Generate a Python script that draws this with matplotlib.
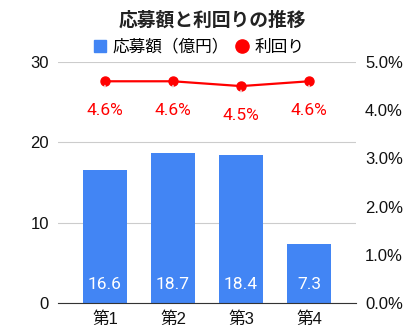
import matplotlib
matplotlib.use("Agg")
import matplotlib.pyplot as plt
from matplotlib.ticker import FuncFormatter
from matplotlib.lines import Line2D

plt.rcParams['font.family'] = ['Roboto', 'Noto Sans CJK JP', 'DejaVu Sans']
TICKFONT = ['Liberation Sans', 'Noto Sans CJK JP', 'DejaVu Sans']

categories = ["第1", "第2", "第3", "第4"]
amounts = [16.6, 18.7, 18.4, 7.3]          # 応募額(億円)
yields = [4.6, 4.6, 4.5, 4.6]              # 利回り (%)
left_ticks = [0, 10, 20, 30]
right_ticks = [0.0, 1.0, 2.0, 3.0, 4.0, 5.0]

BAR = "#4285f4"
RED = "#ff0000"

fig = plt.figure(figsize=(4.16, 3.36), dpi=100)
ax = fig.add_axes([58/416, 33/336, 298/416, 241/336])
ax2 = ax.twinx()

x = list(range(len(categories)))
ax.bar(x, amounts, width=0.65, color=BAR, zorder=2, label="応募額（億円）")
ax.set_xlim(-0.69, 3.69)
ax.set_ylim(0, 30)
ax.set_yticks(left_ticks)
ax.set_xticks(x)
ax.set_xticklabels(categories)
ax.grid(axis='y', color='#cccccc', linewidth=0.8, zorder=0)
for s in ['top', 'right', 'left']:
    ax.spines[s].set_visible(False)
ax.spines['bottom'].set_color('#333333')
ax.spines['bottom'].set_zorder(3)
ax.tick_params(axis='both', length=0, labelsize=12, colors='#111111')
ax.tick_params(axis='x', pad=6)
ax.tick_params(axis='y', pad=6.5)
for lab in ax.get_xticklabels() + ax.get_yticklabels():
    lab.set_family(TICKFONT)

for xi, v in zip(x, amounts):
    ax.annotate(f"{v}", xy=(xi, 0), xytext=(0, 8), textcoords='offset points',
                ha='center', va='bottom', color='white', fontsize=12.5, zorder=4)

ax2.plot(x, yields, color=RED, linewidth=1.6, marker='o', markersize=6.5,
         zorder=3, label="利回り")
ax2.set_ylim(0, 5)
ax2.set_yticks(right_ticks)
ax2.yaxis.set_major_formatter(FuncFormatter(lambda v, p: f"{v:.1f}%"))
for s in ['top', 'right', 'left', 'bottom']:
    ax2.spines[s].set_visible(False)
ax2.tick_params(axis='y', length=0, labelsize=12, colors='#111111', pad=6.5)
for lab in ax2.get_yticklabels():
    lab.set_family(TICKFONT)

for xi, v in zip(x, yields):
    ax2.annotate(f"{v}%", xy=(xi, v), xytext=(0, -21), textcoords='offset points',
                 ha='center', va='center', color=RED, fontsize=12.5,
                 arrowprops=dict(arrowstyle='-', color='#eeeeee', lw=1,
                                 shrinkA=9, shrinkB=3))

fig.text(212/416, 1 - 20/336, "応募額と利回りの推移", ha='center', va='center',
         fontsize=13.5, fontweight='bold', color='#222222')

labels = ["応募額（億円）", "利回り"]
hs = [Line2D([], [], marker='s', linestyle='none', color=BAR, markersize=8),
      Line2D([], [], marker='o', linestyle='none', color=RED, markersize=9.5)]
fig.legend(hs, labels, loc='center', bbox_to_anchor=(198/416, 1 - 47/336), ncol=2,
           frameon=False, handletextpad=0.25, columnspacing=0.3,
           handlelength=1.0, prop={'family': ['Noto Sans CJK JP'], 'size': 12})

fig.savefig("out.png", dpi=100)
